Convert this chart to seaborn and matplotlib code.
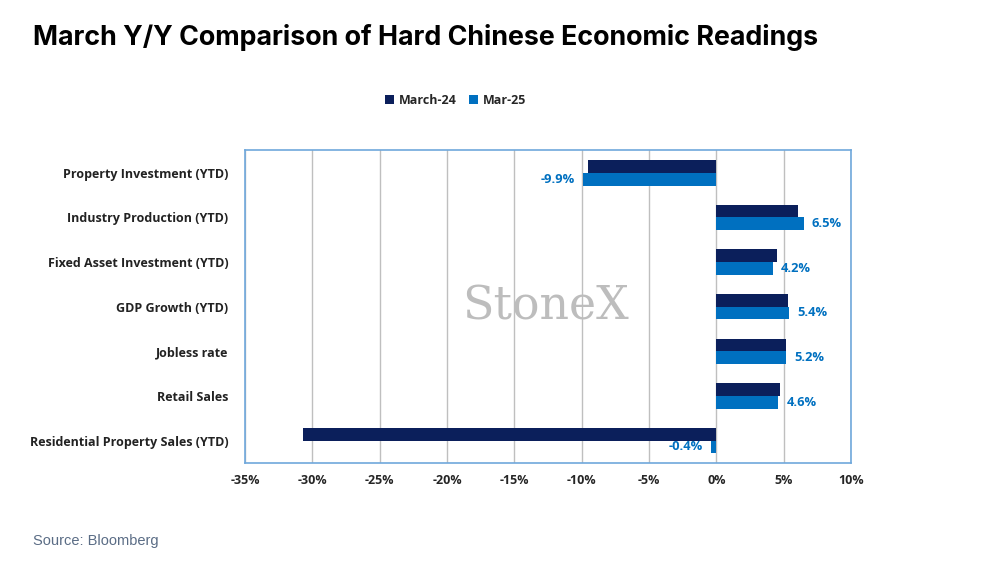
import pandas as pd
import matplotlib.pyplot as plt
import seaborn as sns

# data
categories = ["Property Investment (YTD)", "Industry Production (YTD)",
              "Fixed Asset Investment (YTD)", "GDP Growth (YTD)",
              "Jobless rate", "Retail Sales", "Residential Property Sales (YTD)"]
march_24 = [-9.5, 6.1, 4.5, 5.3, 5.2, 4.7, -30.7]
mar_25 = [-9.9, 6.5, 4.2, 5.4, 5.2, 4.6, -0.4]
series_names = ["March-24", "Mar-25"]

df = pd.DataFrame({
    "category": categories * 2,
    "value": march_24 + mar_25,
    "series": [series_names[0]] * len(categories) + [series_names[1]] * len(categories),
})

navy = "#0B1F5B"
blue = "#0070C0"

sns.set_style("white")
plt.rcParams['font.family'] = ['Open Sans', 'DejaVu Sans']

fig = plt.figure(figsize=(10.07, 5.70), dpi=100)
ax = fig.add_axes([0.2433, 0.188, 0.6017, 0.548])

sns.barplot(data=df, y="category", x="value", hue="series", orient="h",
            palette=[navy, blue], width=0.57, saturation=1, linewidth=0,
            ax=ax, zorder=3)

ax.set_xlim(-35, 10)
ax.set_xticks(range(-35, 11, 5))
ax.set_xticklabels([f"{t}%" for t in range(-35, 11, 5)], fontweight="bold", fontsize=9)
ax.set_xlabel("")
ax.set_ylabel("")
ax.tick_params(axis="y", length=0, pad=12, labelsize=9)
ax.tick_params(axis="x", length=0, pad=8)
for lbl in ax.get_yticklabels():
    lbl.set_fontweight("bold")
    lbl.set_color("#222222")
ax.grid(axis="x", color="#BFBFBF", linewidth=1, zorder=0)
ax.set_axisbelow(True)
for sp in ax.spines.values():
    sp.set_visible(True)
    sp.set_color("#6FA8DC")
    sp.set_linewidth(1.2)

# value labels for Mar-25
for i, v in enumerate(mar_25):
    off = 0.6 if v >= 0 else -0.6
    ax.text(v + off, i + 0.14, f"{v:.1f}%", color=blue, fontweight="bold",
            fontsize=9.3, ha="left" if v >= 0 else "right", va="center", zorder=4)

# legend
handles, labels = ax.get_legend_handles_labels()
ax.legend(handles, labels, loc="center", bbox_to_anchor=(0.348, 1.16), ncol=2,
          frameon=False, handlelength=0.7, handleheight=0.7, handletextpad=0.4,
          columnspacing=1.0, prop={"weight": "bold", "size": 9})

# StoneX logo watermark
ax.text(-12.7, 3.0, "StoneX", fontsize=33, color="#BDBDBD", family="DejaVu Serif",
        ha="center", va="center", zorder=2)

fig.text(0.033, 0.935, "March Y/Y Comparison of Hard Chinese Economic Readings",
         fontsize=19.3, fontweight="bold", family="Inter", color="black",
         ha="left", va="center")
fig.text(0.033, 0.05, "Source: Bloomberg", fontsize=10.5, color="#5A6C85",
         family="Liberation Sans", ha="left", va="center")

plt.savefig("out.png", dpi=100)
plt.close()
